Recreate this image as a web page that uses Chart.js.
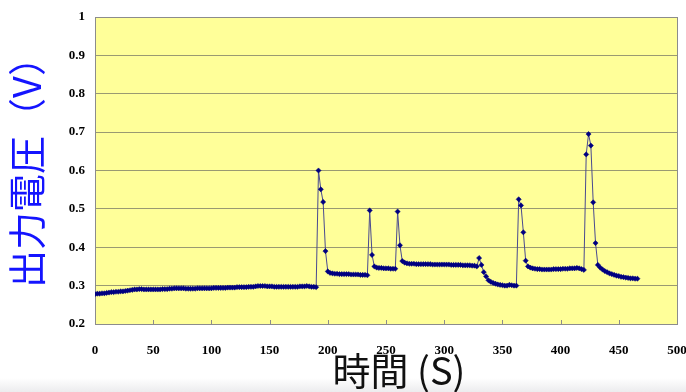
<!DOCTYPE html>
<html>
<head>
<meta charset="utf-8">
<script src="https://cdn.jsdelivr.net/npm/chart.js@4.4.1/dist/chart.umd.min.js"></script>
<style>
  html, body { margin: 0; padding: 0; }
  body {
    width: 686px; height: 392px; overflow: hidden;
    background: linear-gradient(to bottom, #ffffff 0px, #ffffff 378px, #ececee 392px);
  }
  #wrap { position: relative; width: 686px; height: 392px; }
</style>
</head>
<body>
<div id="wrap"><canvas id="chart" width="686" height="392"></canvas></div>
<script>
// sampling: one reading every 2 s starting at t = 0
const sampleStart = 0;
const sampleStep = 2;

// output voltage (V) per sample
const baseline = [
  0.278, 0.279, 0.279, 0.280, 0.280, 0.281, 0.282, 0.283, 0.283, 0.284,
  0.284, 0.285, 0.285, 0.286, 0.287, 0.288, 0.289, 0.290, 0.290, 0.291,
  0.291, 0.290, 0.290, 0.290, 0.290, 0.290, 0.290, 0.290, 0.290, 0.291,
  0.291, 0.291, 0.292, 0.292, 0.293, 0.293, 0.293, 0.293, 0.293, 0.292,
  0.292, 0.292, 0.292, 0.292, 0.293, 0.293, 0.293, 0.293, 0.293, 0.293,
  0.293, 0.294, 0.294, 0.294, 0.294, 0.294, 0.294, 0.295, 0.295, 0.295,
  0.295, 0.296, 0.296, 0.296, 0.296, 0.296, 0.297, 0.297, 0.297, 0.298,
  0.299, 0.299, 0.299, 0.299, 0.298, 0.298, 0.298, 0.297, 0.297, 0.297,
  0.297, 0.297, 0.297, 0.297, 0.297, 0.297, 0.297, 0.297, 0.298, 0.298,
  0.298, 0.299, 0.298, 0.297, 0.297, 0.296
];                                   // t = 0 .. 190
const pulse1 = [
  0.600, 0.551, 0.518, 0.390, 0.337, 0.333, 0.332, 0.331, 0.331, 0.330,
  0.330, 0.330, 0.330, 0.330, 0.329, 0.329, 0.329, 0.329, 0.328, 0.328,
  0.328, 0.327
];                                   // t = 192 .. 234
const pulse2 = [
  0.496, 0.380, 0.350, 0.347, 0.346, 0.346, 0.345, 0.345, 0.345, 0.344,
  0.344, 0.344
];                                   // t = 236 .. 258
const pulse3 = [
  0.493, 0.405, 0.364, 0.360, 0.358, 0.357, 0.357, 0.357, 0.356, 0.356,
  0.356, 0.356, 0.356, 0.356, 0.356, 0.355, 0.355, 0.355, 0.355, 0.355,
  0.355, 0.355, 0.355, 0.354, 0.354, 0.354, 0.354, 0.354, 0.353, 0.353,
  0.353, 0.353, 0.352, 0.352, 0.350, 0.372, 0.354, 0.335, 0.324, 0.314,
  0.310, 0.307, 0.305, 0.303, 0.302, 0.301, 0.300, 0.300, 0.302, 0.301,
  0.300, 0.300
];                                   // t = 260 .. 362
const pulse4 = [
  0.525, 0.509, 0.439, 0.365, 0.350, 0.347, 0.345, 0.344, 0.343, 0.343,
  0.342, 0.342, 0.342, 0.342, 0.342, 0.343, 0.343, 0.343, 0.343, 0.344,
  0.344, 0.344, 0.345, 0.345, 0.345, 0.346, 0.345, 0.343, 0.341
];                                   // t = 364 .. 420
const pulse5 = [
  0.642, 0.695, 0.665, 0.517, 0.411, 0.354, 0.347, 0.342, 0.338, 0.335,
  0.332, 0.330, 0.328, 0.326, 0.325, 0.323, 0.322, 0.321, 0.320, 0.319,
  0.319, 0.318, 0.318
];                                   // t = 422 .. 466

const voltages = [...baseline, ...pulse1, ...pulse2, ...pulse3, ...pulse4, ...pulse5];
const points = voltages.map((v, i) => ({ x: sampleStart + i * sampleStep, y: v }));

// axes
const xMin = 0, xMax = 500, xStep = 50;
const yMin = 0.2, yMax = 1, yStep = 0.1;

const yTitle = "出力電圧（V）";
const xTitle = "時間 (S)";

const tickFont = { family: '"Liberation Serif", "Times New Roman", serif', size: 13, weight: "bold" };

// plot background, frame, inner x tick marks and axis titles
const decor = {
  id: "decor",
  beforeDraw(chart) {
    const { ctx, chartArea: a } = chart;
    ctx.save();
    ctx.fillStyle = "#ffff99";
    ctx.fillRect(a.left, a.top, a.right - a.left, a.bottom - a.top);
    ctx.restore();
  },
  beforeDatasetsDraw(chart) {
    const { ctx, chartArea: a, scales } = chart;
    ctx.save();
    ctx.strokeStyle = "#8c8c8c";
    ctx.lineWidth = 1;
    ctx.strokeRect(Math.round(a.left) + 0.5, Math.round(a.top) + 0.5,
      Math.round(a.right - a.left), Math.round(a.bottom - a.top));
    ctx.beginPath();
    scales.x.ticks.forEach((t) => {
      const px = Math.round(scales.x.getPixelForValue(t.value)) + 0.5;
      ctx.moveTo(px, a.bottom);
      ctx.lineTo(px, a.bottom - 4);
    });
    ctx.stroke();
    ctx.restore();
  },
  afterDraw(chart) {
    const { ctx } = chart;
    ctx.save();
    ctx.textAlign = "center";
    ctx.textBaseline = "middle";
    ctx.font = '38px "Noto Sans CJK JP", sans-serif';
    ctx.fillStyle = "#1414ff";
    ctx.translate(27, 163);
    ctx.rotate(-Math.PI / 2);
    ctx.fillText(yTitle, 0, 0);
    ctx.restore();

    ctx.save();
    ctx.textAlign = "center";
    ctx.textBaseline = "middle";
    ctx.font = '38px "Noto Sans CJK JP", sans-serif';
    ctx.fillStyle = "#111111";
    ctx.fillText(xTitle, 399, 371);
    ctx.restore();
  }
};

const ctx = document.getElementById("chart").getContext("2d");
new Chart(ctx, {
  type: "line",
  data: {
    datasets: [{
      data: points,
      borderColor: "#4a4a90",
      borderWidth: 1,
      pointStyle: "rectRot",
      pointRadius: 2.6,
      pointBackgroundColor: "#000080",
      pointBorderColor: "#000080",
      pointBorderWidth: 0.5,
      tension: 0
    }]
  },
  options: {
    responsive: false,
    animation: false,
    devicePixelRatio: 1,
    layout: { padding: { left: 0, right: 9, top: 17, bottom: 0 } },
    plugins: { legend: { display: false }, tooltip: { enabled: false } },
    scales: {
      x: {
        type: "linear",
        min: xMin,
        max: xMax,
        ticks: { stepSize: xStep, color: "#000", font: tickFont, padding: 11, maxRotation: 0, autoSkip: false },
        grid: { display: false },
        border: { display: false },
        afterFit(scale) {
          scale.height = 68;
          scale.paddingLeft = 0;
          scale.paddingRight = 0;
        }
      },
      y: {
        min: yMin,
        max: yMax,
        ticks: {
          stepSize: yStep, color: "#000", font: tickFont, padding: 10, autoSkip: false,
          callback: (v) => String(Number(v.toFixed(1)))
        },
        grid: { color: "#9a9a72", lineWidth: 1, drawTicks: false },
        border: { display: false },
        afterFit(scale) {
          scale.width = 95;
          scale.paddingTop = 0;
          scale.paddingBottom = 0;
        }
      }
    }
  },
  plugins: [decor]
});
</script>
</body>
</html>
